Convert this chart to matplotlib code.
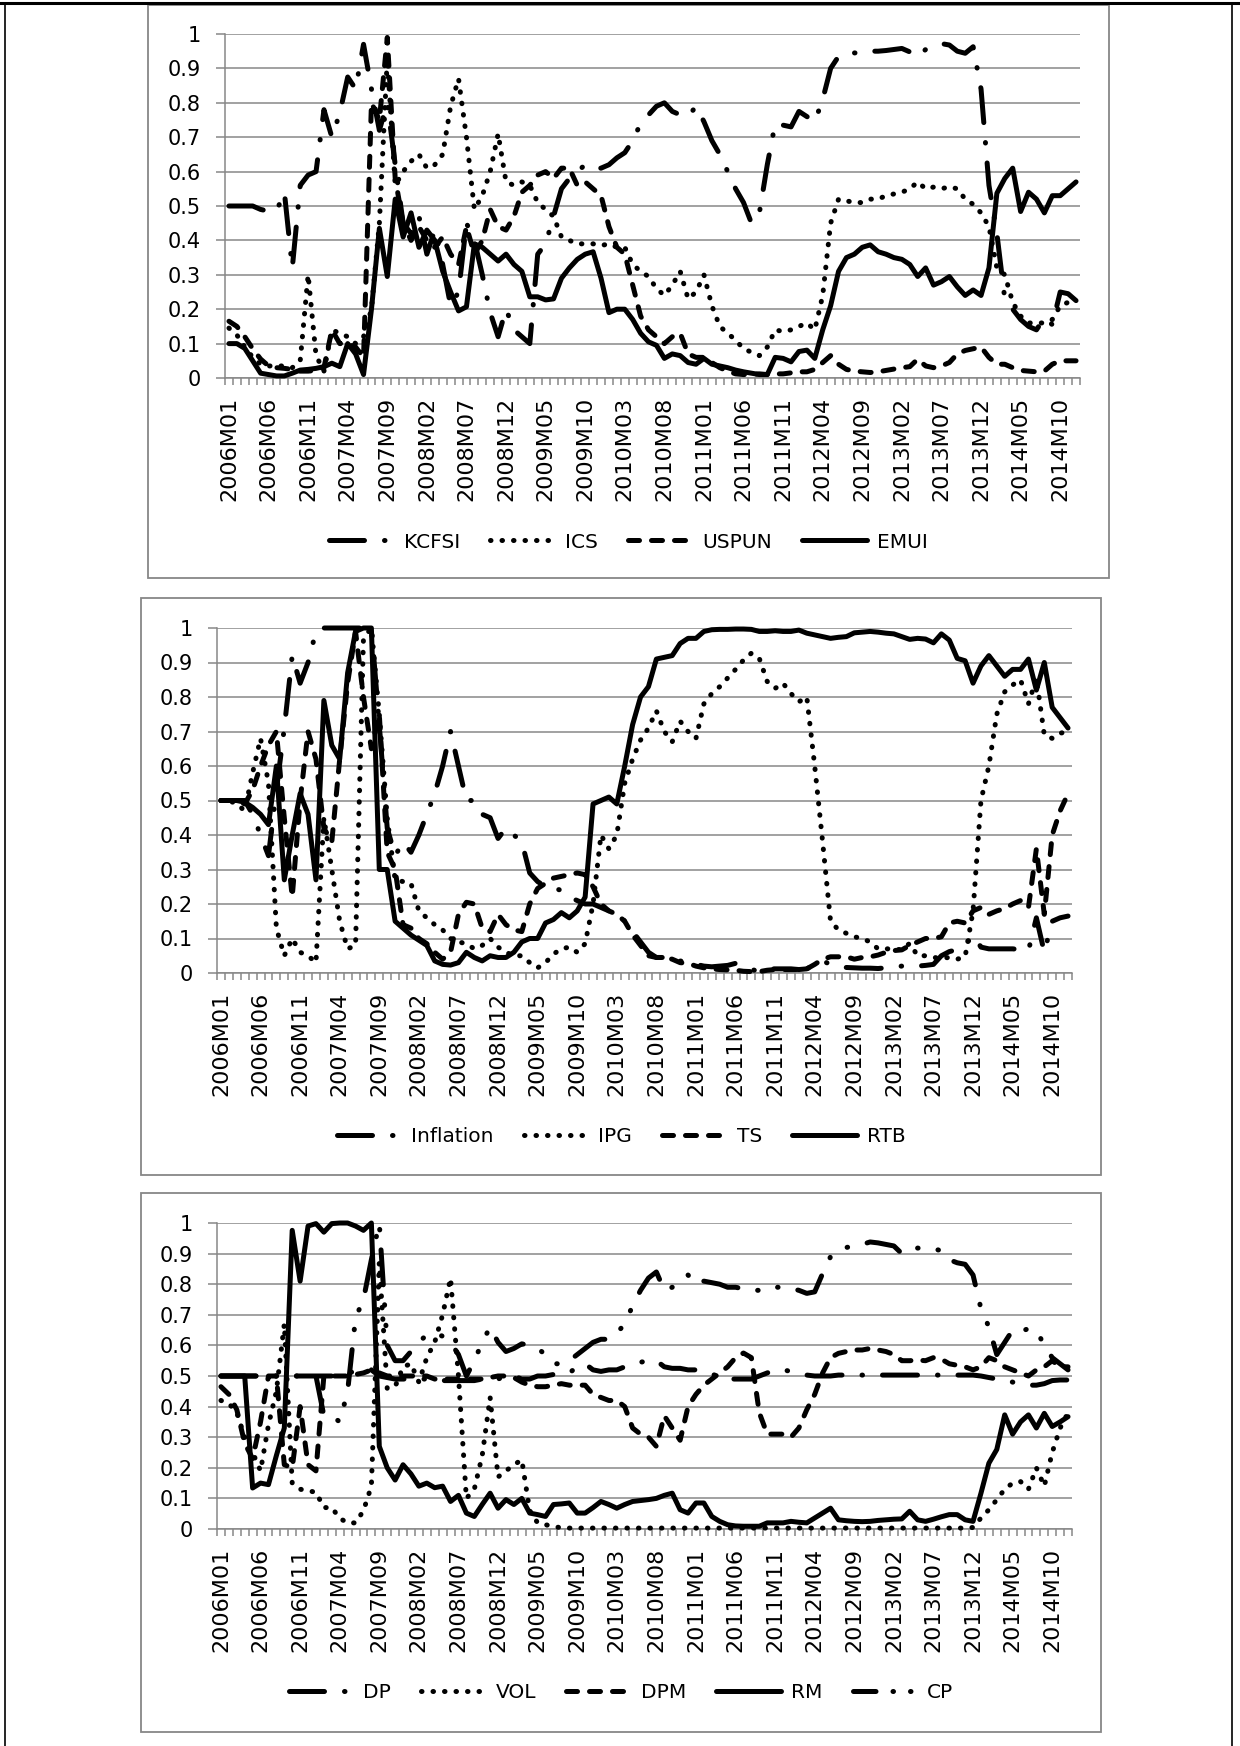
import numpy as np
import matplotlib.pyplot as plt
from matplotlib.patches import Rectangle
from matplotlib.lines import Line2D

# monthly categories 2006M01 .. 2014M12 (108 points), labelled every 5th month
n_months = 108
tick_labels = ['2006M01', '2006M06', '2006M11', '2007M04', '2007M09', '2008M02',
               '2008M07', '2008M12', '2009M05', '2009M10', '2010M03', '2010M08',
               '2011M01', '2011M06', '2011M11', '2012M04', '2012M09', '2013M02',
               '2013M07', '2013M12', '2014M05', '2014M10']

# ---- panel 1 ----
kcfsi = [0.50, 0.50, 0.50, 0.50, 0.49, 0.485, 0.485, 0.54, 0.32, 0.56,
         0.59, 0.60, 0.78, 0.70, 0.77, 0.875, 0.84, 0.97, 0.84, 0.72,
         0.80, 0.62, 0.45, 0.42, 0.47, 0.36, 0.43, 0.33, 0.21, 0.25,
         0.45, 0.40, 0.30, 0.19, 0.12, 0.20, 0.14, 0.12, 0.10, 0.36,
         0.39, 0.47, 0.55, 0.58, 0.60, 0.62, 0.61, 0.61, 0.62, 0.64,
         0.655, 0.69, 0.74, 0.765, 0.79, 0.80, 0.775, 0.765, 0.76, 0.79,
         0.745, 0.69, 0.65, 0.60, 0.55, 0.51, 0.45, 0.48, 0.62, 0.74,
         0.735, 0.73, 0.775, 0.76, 0.745, 0.81, 0.90, 0.935, 0.94, 0.945,
         0.945, 0.95, 0.95, 0.952, 0.955, 0.958, 0.948, 0.934, 0.955, 0.965,
         0.972, 0.968, 0.95, 0.944, 0.963, 0.84, 0.56, 0.42, 0.23, 0.20,
         0.17, 0.15, 0.14, 0.175, 0.155, 0.25, 0.245, 0.225]
ics = [0.145, 0.125, 0.09, 0.06, 0.04, 0.035, 0.035, 0.035, 0.03, 0.05,
       0.30, 0.065, 0.02, 0.14, 0.13, 0.12, 0.10, 0.12, 0.20, 0.45,
       0.93, 0.56, 0.60, 0.63, 0.65, 0.61, 0.62, 0.65, 0.79, 0.87,
       0.70, 0.49, 0.53, 0.60, 0.71, 0.57, 0.56, 0.57, 0.56, 0.51,
       0.49, 0.47, 0.41, 0.40, 0.39, 0.39, 0.39, 0.385, 0.39, 0.38,
       0.38, 0.33, 0.31, 0.295, 0.26, 0.24, 0.27, 0.31, 0.23, 0.25,
       0.30, 0.21, 0.15, 0.13, 0.11, 0.085, 0.075, 0.065, 0.09, 0.14,
       0.135, 0.14, 0.15, 0.16, 0.14, 0.24, 0.45, 0.52, 0.515, 0.51,
       0.51, 0.52, 0.52, 0.53, 0.535, 0.54, 0.55, 0.57, 0.55, 0.555,
       0.55, 0.556, 0.55, 0.52, 0.505, 0.48, 0.44, 0.32, 0.30, 0.22,
       0.18, 0.16, 0.16, 0.16, 0.17, 0.21, 0.22, 0.22]
uspun = [0.165, 0.15, 0.12, 0.085, 0.055, 0.035, 0.03, 0.028, 0.025, 0.02,
         0.02, 0.022, 0.03, 0.14, 0.10, 0.10, 0.09, 0.06, 0.80, 0.75,
         0.99, 0.58, 0.45, 0.40, 0.44, 0.40, 0.38, 0.41, 0.36, 0.33,
         0.44, 0.36, 0.40, 0.49, 0.44, 0.43, 0.47, 0.54, 0.56, 0.59,
         0.60, 0.58, 0.61, 0.61, 0.56, 0.57, 0.55, 0.53, 0.44, 0.38,
         0.36, 0.27, 0.18, 0.14, 0.12, 0.10, 0.12, 0.13, 0.07, 0.06,
         0.06, 0.045, 0.03, 0.02, 0.012, 0.01, 0.01, 0.012, 0.01, 0.012,
         0.012, 0.015, 0.018, 0.018, 0.025, 0.045, 0.065, 0.04, 0.025, 0.02,
         0.018, 0.016, 0.018, 0.022, 0.026, 0.03, 0.033, 0.055, 0.035, 0.03,
         0.035, 0.045, 0.07, 0.08, 0.085, 0.09, 0.06, 0.04, 0.04, 0.03,
         0.022, 0.02, 0.018, 0.02, 0.04, 0.05, 0.05, 0.05]
emui = [0.10, 0.10, 0.086, 0.05, 0.014, 0.01, 0.006, 0.006, 0.014, 0.023,
        0.025, 0.028, 0.033, 0.043, 0.033, 0.10, 0.07, 0.01, 0.20, 0.435,
        0.295, 0.52, 0.41, 0.48, 0.38, 0.43, 0.40, 0.31, 0.25, 0.195,
        0.207, 0.39, 0.38, 0.36, 0.34, 0.36, 0.33, 0.31, 0.236, 0.236,
        0.227, 0.23, 0.29, 0.32, 0.345, 0.36, 0.367, 0.29, 0.19, 0.20,
        0.20, 0.17, 0.13, 0.105, 0.095, 0.057, 0.07, 0.065, 0.045, 0.04,
        0.057, 0.04, 0.035, 0.03, 0.023, 0.018, 0.014, 0.01, 0.01, 0.06,
        0.057, 0.047, 0.077, 0.081, 0.057, 0.14, 0.21, 0.31, 0.35, 0.36,
        0.38, 0.387, 0.367, 0.36, 0.35, 0.345, 0.33, 0.295, 0.32, 0.27,
        0.28, 0.295, 0.265, 0.24, 0.256, 0.24, 0.32, 0.537, 0.58, 0.61,
        0.484, 0.54, 0.52, 0.48, 0.53, 0.53, 0.55, 0.57]

# ---- panel 2 ----
inflation = [0.50, 0.50, 0.50, 0.50, 0.46, 0.40, 0.34, 0.53, 0.71, 0.92,
             0.84, 0.90, 0.99, 1.0, 1.0, 1.0, 1.0, 1.0, 1.0, 1.0,
             0.72, 0.42, 0.34, 0.38, 0.35, 0.40, 0.46, 0.52, 0.60, 0.70,
             0.60, 0.50, 0.50, 0.46, 0.45, 0.39, 0.42, 0.40, 0.38, 0.29,
             0.265, 0.25, 0.245, 0.24, 0.22, 0.21, 0.20, 0.20, 0.19, 0.18,
             0.18, 0.15, 0.12, 0.09, 0.06, 0.045, 0.045, 0.05, 0.035, 0.03,
             0.025, 0.02, 0.018, 0.02, 0.022, 0.028, 0.02, 0.01, 0.005, 0.012,
             0.012, 0.012, 0.012, 0.01, 0.012, 0.025, 0.035, 0.025, 0.018, 0.016,
             0.015, 0.014, 0.014, 0.013, 0.015, 0.018, 0.02, 0.022, 0.02, 0.022,
             0.025, 0.05, 0.062, 0.068, 0.08, 0.11, 0.075, 0.07, 0.07, 0.07,
             0.07, 0.068, 0.065, 0.16, 0.06, 0.15, 0.16, 0.165]
ipg = [0.50, 0.50, 0.49, 0.47, 0.58, 0.68, 0.55, 0.13, 0.05, 0.10,
       0.06, 0.05, 0.03, 0.45, 0.30, 0.15, 0.07, 0.08, 0.97, 1.0,
       0.75, 0.45, 0.27, 0.265, 0.26, 0.18, 0.16, 0.14, 0.125, 0.10,
       0.09, 0.085, 0.07, 0.08, 0.10, 0.075, 0.06, 0.05, 0.05, 0.03,
       0.015, 0.03, 0.055, 0.07, 0.075, 0.06, 0.085, 0.20, 0.40, 0.36,
       0.40, 0.55, 0.62, 0.675, 0.71, 0.76, 0.70, 0.67, 0.73, 0.70,
       0.68, 0.78, 0.81, 0.83, 0.855, 0.88, 0.907, 0.927, 0.912, 0.845,
       0.825, 0.84, 0.81, 0.786, 0.80, 0.60, 0.38, 0.15, 0.125, 0.115,
       0.105, 0.10, 0.09, 0.07, 0.07, 0.07, 0.067, 0.086, 0.05, 0.05,
       0.045, 0.043, 0.045, 0.04, 0.047, 0.18, 0.50, 0.60, 0.75, 0.815,
       0.835, 0.85, 0.78, 0.855, 0.69, 0.68, 0.695, 0.70]
ts = [0.50, 0.50, 0.50, 0.49, 0.53, 0.60, 0.66, 0.70, 0.45, 0.22,
      0.50, 0.70, 0.62, 0.42, 0.38, 0.62, 0.84, 0.99, 0.80, 0.65,
      0.75, 0.35, 0.30, 0.14, 0.13, 0.10, 0.085, 0.06, 0.04, 0.06,
      0.17, 0.205, 0.20, 0.13, 0.12, 0.17, 0.14, 0.125, 0.12, 0.20,
      0.245, 0.26, 0.275, 0.28, 0.285, 0.29, 0.285, 0.25, 0.20, 0.18,
      0.17, 0.15, 0.11, 0.08, 0.05, 0.045, 0.045, 0.04, 0.03, 0.028,
      0.02, 0.015, 0.012, 0.01, 0.009, 0.008, 0.005, 0.004, 0.004, 0.008,
      0.01, 0.01, 0.01, 0.01, 0.012, 0.025, 0.04, 0.047, 0.047, 0.047,
      0.04, 0.045, 0.047, 0.052, 0.06, 0.065, 0.067, 0.08, 0.09, 0.10,
      0.10, 0.105, 0.145, 0.15, 0.145, 0.18, 0.19, 0.17, 0.18, 0.187,
      0.20, 0.21, 0.19, 0.36, 0.17, 0.40, 0.47, 0.52]
rtb = [0.50, 0.50, 0.50, 0.495, 0.48, 0.46, 0.43, 0.60, 0.27, 0.40,
       0.52, 0.46, 0.27, 0.79, 0.66, 0.62, 0.87, 0.99, 1.0, 1.0,
       0.30, 0.30, 0.15, 0.13, 0.11, 0.095, 0.08, 0.035, 0.025, 0.023,
       0.03, 0.06, 0.045, 0.035, 0.05, 0.045, 0.045, 0.06, 0.09, 0.10,
       0.10, 0.145, 0.155, 0.175, 0.16, 0.18, 0.22, 0.49, 0.50, 0.51,
       0.49, 0.60, 0.72, 0.80, 0.83, 0.91, 0.915, 0.92, 0.955, 0.97,
       0.97, 0.99, 0.995, 0.996, 0.996, 0.997, 0.997, 0.996, 0.99, 0.99,
       0.992, 0.99, 0.99, 0.994, 0.985, 0.98, 0.975, 0.97, 0.973, 0.975,
       0.986, 0.988, 0.99, 0.988, 0.985, 0.983, 0.975, 0.967, 0.97, 0.968,
       0.957, 0.983, 0.965, 0.912, 0.905, 0.84, 0.89, 0.92, 0.89, 0.86,
       0.88, 0.88, 0.91, 0.82, 0.90, 0.77, 0.74, 0.71]

# ---- panel 3 ----
dp = [0.50, 0.50, 0.50, 0.50, 0.50, 0.50, 0.50, 0.50, 0.50, 0.50,
      0.50, 0.50, 0.50, 0.50, 0.50, 0.505, 0.51, 0.515, 0.52, 0.52,
      0.50, 0.495, 0.49, 0.49, 0.49, 0.49, 0.49, 0.49, 0.485, 0.485,
      0.485, 0.485, 0.485, 0.49, 0.49, 0.49, 0.50, 0.50, 0.49, 0.49,
      0.50, 0.50, 0.505, 0.51, 0.51, 0.53, 0.54, 0.52, 0.515, 0.52,
      0.52, 0.53, 0.54, 0.545, 0.55, 0.55, 0.53, 0.525, 0.525, 0.52,
      0.52, 0.51, 0.505, 0.50, 0.49, 0.49, 0.49, 0.49, 0.50, 0.51,
      0.52, 0.52, 0.515, 0.51, 0.503, 0.50, 0.50, 0.50, 0.503, 0.503,
      0.503, 0.503, 0.503, 0.503, 0.503, 0.503, 0.503, 0.503, 0.503, 0.503,
      0.503, 0.503, 0.503, 0.503, 0.503, 0.503, 0.50, 0.495, 0.49, 0.487,
      0.48, 0.475, 0.47, 0.47, 0.475, 0.485, 0.487, 0.487]
vol = [0.42, 0.41, 0.38, 0.30, 0.25, 0.19, 0.34, 0.45, 0.67, 0.15,
       0.13, 0.125, 0.12, 0.07, 0.07, 0.035, 0.02, 0.02, 0.06, 0.14,
       0.87, 0.46, 0.465, 0.53, 0.54, 0.48, 0.56, 0.61, 0.70, 0.82,
       0.50, 0.10, 0.13, 0.24, 0.43, 0.17, 0.19, 0.21, 0.226, 0.06,
       0.02, 0.014, 0.008, 0.004, 0.003, 0.003, 0.003, 0.003, 0.003, 0.003,
       0.003, 0.003, 0.003, 0.003, 0.003, 0.003, 0.003, 0.003, 0.003, 0.003,
       0.003, 0.003, 0.003, 0.003, 0.003, 0.003, 0.003, 0.003, 0.003, 0.003,
       0.003, 0.003, 0.003, 0.003, 0.003, 0.003, 0.003, 0.003, 0.003, 0.003,
       0.003, 0.003, 0.003, 0.003, 0.003, 0.003, 0.003, 0.003, 0.003, 0.003,
       0.003, 0.003, 0.003, 0.003, 0.003, 0.005, 0.036, 0.063, 0.096, 0.13,
       0.15, 0.155, 0.13, 0.20, 0.14, 0.25, 0.33, 0.38]
dpm = [0.465, 0.44, 0.39, 0.28, 0.23, 0.35, 0.50, 0.50, 0.21, 0.20,
       0.40, 0.21, 0.19, 0.50, 0.50, 0.50, 0.50, 0.505, 0.51, 0.52,
       0.51, 0.50, 0.50, 0.50, 0.50, 0.50, 0.50, 0.49, 0.49, 0.49,
       0.49, 0.49, 0.49, 0.49, 0.495, 0.50, 0.50, 0.495, 0.48, 0.47,
       0.465, 0.465, 0.47, 0.475, 0.47, 0.47, 0.47, 0.44, 0.43, 0.42,
       0.42, 0.40, 0.33, 0.31, 0.30, 0.27, 0.37, 0.33, 0.29, 0.40,
       0.44, 0.47, 0.49, 0.51, 0.53, 0.56, 0.575, 0.56, 0.38, 0.31,
       0.31, 0.31, 0.30, 0.33, 0.39, 0.44, 0.51, 0.56, 0.574, 0.58,
       0.585, 0.585, 0.59, 0.585, 0.58, 0.57, 0.55, 0.55, 0.552, 0.55,
       0.56, 0.555, 0.54, 0.535, 0.53, 0.52, 0.53, 0.56, 0.55, 0.53,
       0.52, 0.51, 0.50, 0.52, 0.53, 0.55, 0.53, 0.53]
rm = [0.50, 0.50, 0.50, 0.50, 0.134, 0.15, 0.145, 0.24, 0.33, 0.976,
      0.81, 0.99, 0.998, 0.97, 0.998, 1.0, 1.0, 0.99, 0.976, 1.0,
      0.27, 0.20, 0.16, 0.21, 0.18, 0.14, 0.15, 0.135, 0.14, 0.09,
      0.11, 0.052, 0.041, 0.08, 0.117, 0.068, 0.096, 0.08, 0.10, 0.052,
      0.047, 0.041, 0.08, 0.082, 0.085, 0.052, 0.052, 0.07, 0.09, 0.08,
      0.068, 0.08, 0.09, 0.093, 0.096, 0.10, 0.11, 0.117, 0.063, 0.052,
      0.085, 0.085, 0.041, 0.025, 0.014, 0.01, 0.009, 0.009, 0.009, 0.02,
      0.02, 0.02, 0.025, 0.022, 0.02, 0.036, 0.052, 0.068, 0.03, 0.027,
      0.025, 0.024, 0.025, 0.028, 0.03, 0.032, 0.033, 0.058, 0.03, 0.025,
      0.032, 0.04, 0.047, 0.047, 0.03, 0.025, 0.117, 0.215, 0.26, 0.373,
      0.31, 0.35, 0.373, 0.33, 0.378, 0.335, 0.35, 0.367]
cp = [0.50, 0.50, 0.50, 0.50, 0.50, 0.50, 0.50, 0.50, 0.50, 0.50,
      0.50, 0.50, 0.50, 0.37, 0.37, 0.35, 0.45, 0.69, 0.75, 0.88,
      1.0, 0.60, 0.55, 0.55, 0.58, 0.61, 0.635, 0.64, 0.63, 0.61,
      0.57, 0.50, 0.55, 0.61, 0.66, 0.61, 0.58, 0.59, 0.605, 0.60,
      0.59, 0.57, 0.54, 0.54, 0.55, 0.57, 0.59, 0.61, 0.62, 0.62,
      0.64, 0.67, 0.73, 0.78, 0.82, 0.84, 0.78, 0.79, 0.81, 0.83,
      0.80, 0.81, 0.805, 0.80, 0.79, 0.79, 0.785, 0.78, 0.78, 0.79,
      0.79, 0.79, 0.786, 0.78, 0.77, 0.775, 0.835, 0.89, 0.91, 0.92,
      0.925, 0.93, 0.938, 0.935, 0.93, 0.925, 0.90, 0.91, 0.918, 0.918,
      0.915, 0.91, 0.88, 0.87, 0.865, 0.83, 0.72, 0.66, 0.57, 0.61,
      0.65, 0.645, 0.655, 0.65, 0.60, 0.56, 0.54, 0.52]

# line patterns (Excel-like), in units of line width, with round caps
LW = 3.6
LONG_DASH_DOT = (0, (7, 4, 0.1, 4))
LONG_DASH_DOT_DOT = (0, (7, 4, 0.1, 4, 0.1, 4))
ROUND_DOT = (0, (0.1, 2.2))
DASH = (0, (2.2, 2.4))
SOLID = '-'
# shorter version so both dots show in the legend sample
LEGEND_PATTERN = {LONG_DASH_DOT_DOT: (0, (4.5, 3.4, 0.1, 3.4, 0.1, 3.4))}

GRAY = '#878787'
W, H = 1240, 1746

panels = [
    # axes px (left, right, top(1.0), bottom(0.0)), box px, legend y px, series
    dict(ax=(225, 1080, 34, 378), box=(148, 1109, 5, 578), leg_y=542,
         series=[('KCFSI', kcfsi, LONG_DASH_DOT), ('ICS', ics, ROUND_DOT),
                 ('USPUN', uspun, DASH), ('EMUI', emui, SOLID)]),
    dict(ax=(217, 1072, 628, 973), box=(141, 1101, 598, 1175), leg_y=1137,
         series=[('Inflation', inflation, LONG_DASH_DOT), ('IPG', ipg, ROUND_DOT),
                 ('TS', ts, DASH), ('RTB', rtb, SOLID)]),
    dict(ax=(217, 1072, 1223, 1529), box=(141, 1101, 1193, 1732), leg_y=1693,
         series=[('DP', dp, LONG_DASH_DOT), ('VOL', vol, ROUND_DOT),
                 ('DPM', dpm, DASH), ('RM', rm, SOLID),
                 ('CP', cp, LONG_DASH_DOT_DOT)]),
]

plt.rcParams['font.family'] = ['DejaVu Sans']
fig = plt.figure(figsize=(W / 100, H / 100), dpi=100)

# outer page/table border
fig.add_artist(Line2D([0, 1], [1 - 3 / H] * 2, color='black', lw=2.2,
                      transform=fig.transFigure))
for xb in (5, 1232):
    fig.add_artist(Line2D([xb / W] * 2, [0, 1 - 3 / H], color='black', lw=1.2,
                          transform=fig.transFigure))

x = np.arange(n_months)
ytick_vals = np.round(np.arange(0, 1.01, 0.1), 1)
ytick_text = ['0'] + [f'{v:.1f}' for v in ytick_vals[1:-1]] + ['1']

line_kw = dict(color='black', lw=LW, dash_capstyle='round', solid_capstyle='round',
               dash_joinstyle='round', solid_joinstyle='round')

for p in panels:
    l, r, t, b = p['ax']
    ax = fig.add_axes([l / W, 1 - b / H, (r - l) / W, (b - t) / H])
    bx0, bx1, by0, by1 = p['box']
    fig.add_artist(Rectangle((bx0 / W, 1 - by1 / H), (bx1 - bx0) / W, (by1 - by0) / H,
                             transform=fig.transFigure, fill=False, ec=GRAY, lw=1.3))

    handles = []
    for name, vals, ls in p['series']:
        ax.plot(x, vals, linestyle=ls, clip_on=False, zorder=3, **line_kw)
        handles.append(Line2D([], [], linestyle=LEGEND_PATTERN.get(ls, ls),
                              label=name, **line_kw))

    ax.set_xlim(-0.5, n_months - 0.5)
    ax.set_ylim(0, 1)
    ax.set_yticks(ytick_vals)
    ax.set_yticklabels(ytick_text)
    ax.yaxis.grid(True, color=GRAY, lw=1.1)
    ax.set_axisbelow(True)
    ax.tick_params(axis='y', length=6.5, width=1.1, color=GRAY, pad=11, labelsize=15)

    ax.set_xticks(np.arange(0, n_months, 5))
    ax.set_xticklabels(tick_labels, rotation=90, fontsize=16)
    ax.set_xticks(np.arange(-0.5, n_months, 1), minor=True)
    ax.tick_params(axis='x', which='major', length=0, pad=13.5)
    ax.tick_params(axis='x', which='minor', length=5, width=1.1, color=GRAY)

    for side in ('top', 'right'):
        ax.spines[side].set_visible(False)
    for side in ('left', 'bottom'):
        ax.spines[side].set_color(GRAY)
        ax.spines[side].set_linewidth(1.1)

    cx = (bx0 + bx1) / 2 / W
    fig.legend(handles=handles, loc='center', bbox_to_anchor=(cx, 1 - p['leg_y'] / H),
               ncol=len(handles), frameon=False, fontsize=14.5, handlelength=3.2,
               handletextpad=0.5, columnspacing=1.5)

fig.savefig('out.png', dpi=100)
